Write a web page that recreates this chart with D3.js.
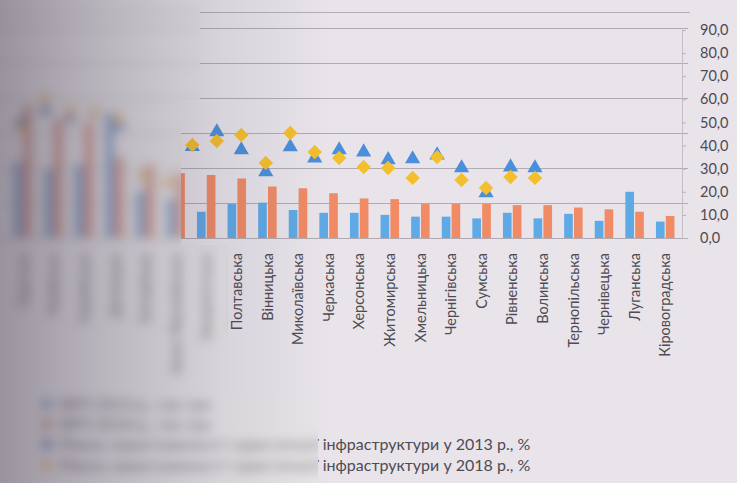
<!DOCTYPE html>
<html><head><meta charset="utf-8">
<script src="https://cdn.jsdelivr.net/npm/d3@7/dist/d3.min.js"></script>
<style>html,body{margin:0;padding:0;background:#cfcad2;overflow:hidden}</style>
</head><body>
<svg id="c" width="737" height="483"></svg>
<script>
// ---- data ----
const categories = ["Одеська","Львівська","Харківська","Донецька","Запорізька","Івано-Франківська","Закарпатська",
  "Полтавська","Вінницька","Миколаївська","Черкаська","Херсонська","Житомирська","Хмельницька","Чернігівська",
  "Сумська","Рівненська","Волинська","Тернопільська","Чернівецька","Луганська","Кіровоградська"];
const bars2013 = [22,20,21,36,13.7,11.3,7.5,9.7,10.1,8.0,7.2,7.2,6.6,6.1,6.1,5.6,7.2,5.6,6.9,4.9,13.2,4.7];
const bars2018 = [38,34,33,23.1,20.9,18.5,18.0,17.0,14.7,14.2,12.8,11.3,11.1,9.7,9.7,9.7,9.4,9.4,8.7,8.2,7.5,6.3];
const share2013 = [50,55,52,54,48.5,27,24,39.5,45.9,38.1,28.6,39.4,34.6,38.1,37.2,33.8,34.2,35.9,30.3,19.5,30.7,30.3];
const share2018 = [47,60,55,54,52,27,24,40.2,42.0,44.6,32.5,45.4,37.2,34.6,30.7,30.3,26.0,35.0,25.1,21.6,26.4,26.0];
const rightTicks = [0,10,20,30,40,50,60,70,80,90];
const leftTicks = [0,10,20,30,40,50,60];
const legendLabels = [
  "ВРП 2013 р., тис грн",
  "ВРП 2018 р., тис грн",
  "Рівень завантаженості туристичної інфраструктури у 2013 р., %",
  "Рівень завантаженості туристичної інфраструктури у 2018 р., %"
];
const colors = {b13:"#5eaae6", b18:"#f08b66", s13:"#4a8fdc", s18:"#f4bf2c"};

// ---- layout ----
const svg = d3.select("#c");
const defs = svg.append("defs");
const f = defs.append("filter").attr("id","bl").attr("filterUnits","userSpaceOnUse")
  .attr("x",-50).attr("y",-50).attr("width",840).attr("height",590);
f.append("feGaussianBlur").attr("stdDeviation",5.5).attr("result","b");
f.append("feColorMatrix").attr("in","b").attr("type","saturate").attr("values",0.55);
defs.append("clipPath").attr("id","sharp").append("path")
  .attr("d","M200,0H737V483H318V395H228V245H181V100H200Z");
defs.append("clipPath").attr("id","blurc").append("path")
  .attr("d","M0,0H200V100H181V245H228V395H318V483H0Z");
const g1 = defs.append("linearGradient").attr("id","shade").attr("gradientUnits","userSpaceOnUse")
  .attr("x1",0).attr("x2",737).attr("y1",0).attr("y2",0);
g1.append("stop").attr("offset","0").attr("stop-color","#3a2f44").attr("stop-opacity",0.45);
g1.append("stop").attr("offset","0.14").attr("stop-color","#3a2f44").attr("stop-opacity",0.26);
g1.append("stop").attr("offset","0.3").attr("stop-color","#3a2f44").attr("stop-opacity",0.09);
g1.append("stop").attr("offset","0.45").attr("stop-color","#3a2f44").attr("stop-opacity",0.0);

const wrapSharp = svg.append("g").attr("clip-path","url(#sharp)");
const content = wrapSharp.append("g").attr("id","content");
content.append("rect").attr("x",-60).attr("y",-60).attr("width",860).attr("height",610).attr("fill","#e8e4ea");

const plotLeft = 7.3, plotRight = 680.5, axisX = 682;
const yL = d3.scaleLinear().domain([0,60]).range([238,28]);
const yR = d3.scaleLinear().domain([0,90]).range([238,30]);
const x = d3.scaleBand().domain(categories).range([plotLeft, plotRight]).paddingInner(0).paddingOuter(0);
const groupW = 18.5;
const x1 = d3.scaleBand().domain(["b13","b18"]).range([0, groupW]).paddingInner(0.12);
const x2 = d3.scalePoint().domain(categories).range([21, 535]);

// top border line
content.append("line").attr("x1",-20).attr("x2",690).attr("y1",12.5).attr("y2",12.5)
  .attr("stroke","#b3aeb6").attr("stroke-width",1);
// gridlines
content.append("g").selectAll("line").data(leftTicks).join("line")
  .attr("x1",-20).attr("x2",688).attr("y1",d=>Math.round(yL(d))+0.5).attr("y2",d=>Math.round(yL(d))+0.5)
  .attr("stroke","#b0abb3").attr("stroke-width",1);

// right axis
const ax = content.append("g").attr("transform",`translate(${axisX},0)`)
  .call(d3.axisRight(yR).tickValues(rightTicks).tickFormat(d=>d.toFixed(1).replace(".",",")).tickSize(4).tickPadding(14));
ax.select(".domain").attr("stroke","#c4bfc7");
ax.selectAll(".tick line").attr("stroke","#b8b3bb");
ax.selectAll("text").attr("fill","#4e4a52").style("font-family","Lato, 'Open Sans', sans-serif").style("font-size","14.5px");

// bars
const gb = content.append("g");
categories.forEach((c,i)=>{
  const cx = x(c) + x.bandwidth()/2 - groupW/2;
  gb.append("rect").attr("x",cx + x1("b13")).attr("width",x1.bandwidth())
    .attr("y",yL(bars2013[i])).attr("height",yL(0)-yL(bars2013[i])).attr("fill",colors.b13);
  gb.append("rect").attr("x",cx + x1("b18")).attr("width",x1.bandwidth())
    .attr("y",yL(bars2018[i])).attr("height",yL(0)-yL(bars2018[i])).attr("fill",colors.b18);
});

// markers
const tri = d3.symbol(d3.symbolTriangle).size(100);
const dia = d3.symbol(d3.symbolSquare).size(104);
content.append("g").selectAll("path").data(categories).join("path")
  .attr("d",tri).attr("fill",colors.s13)
  .attr("transform",(c,i)=>`translate(${x2(c)},${yR(share2013[i])})`);
content.append("g").selectAll("path").data(categories).join("path")
  .attr("d",dia).attr("fill",colors.s18)
  .attr("transform",(c,i)=>`translate(${x2(c)},${yR(share2018[i])}) rotate(45)`);

// category labels
content.append("g").selectAll("text").data(categories).join("text")
  .attr("transform",c=>`translate(${x(c)+x.bandwidth()/2},253) rotate(-90)`)
  .attr("dy","0.36em").attr("text-anchor","end")
  .attr("fill","#4f4b53").style("font-family","Lato, 'Open Sans', sans-serif").style("font-size","14.5px")
  .text(c=>c);

// legend
const legY = [404,424,444,465];
const lg = content.append("g").style("font-family","Lato, 'Open Sans', sans-serif").style("font-size","16px");
legendLabels.forEach((t,i)=>{
  const y = legY[i];
  if(i<2){
    lg.append("rect").attr("x",42).attr("y",y-5).attr("width",10).attr("height",10).attr("fill",i===0?colors.b13:colors.b18);
  } else {
    lg.append("path").attr("d", i===2?tri:dia).attr("fill", i===2?colors.s13:colors.s18)
      .attr("transform",`translate(47,${y})` + (i===3?" rotate(45)":""));
  }
  lg.append("text").attr("x",60).attr("y",y).attr("dy","0.35em").attr("fill","#4f4b54").text(t);
});

// blurred part of the photo
svg.append("g").attr("clip-path","url(#blurc)")
  .append("use").attr("href","#content").attr("filter","url(#bl)");
// photo shading
svg.append("rect").attr("width",737).attr("height",483).attr("fill","url(#shade)");
</script>
</body></html>
